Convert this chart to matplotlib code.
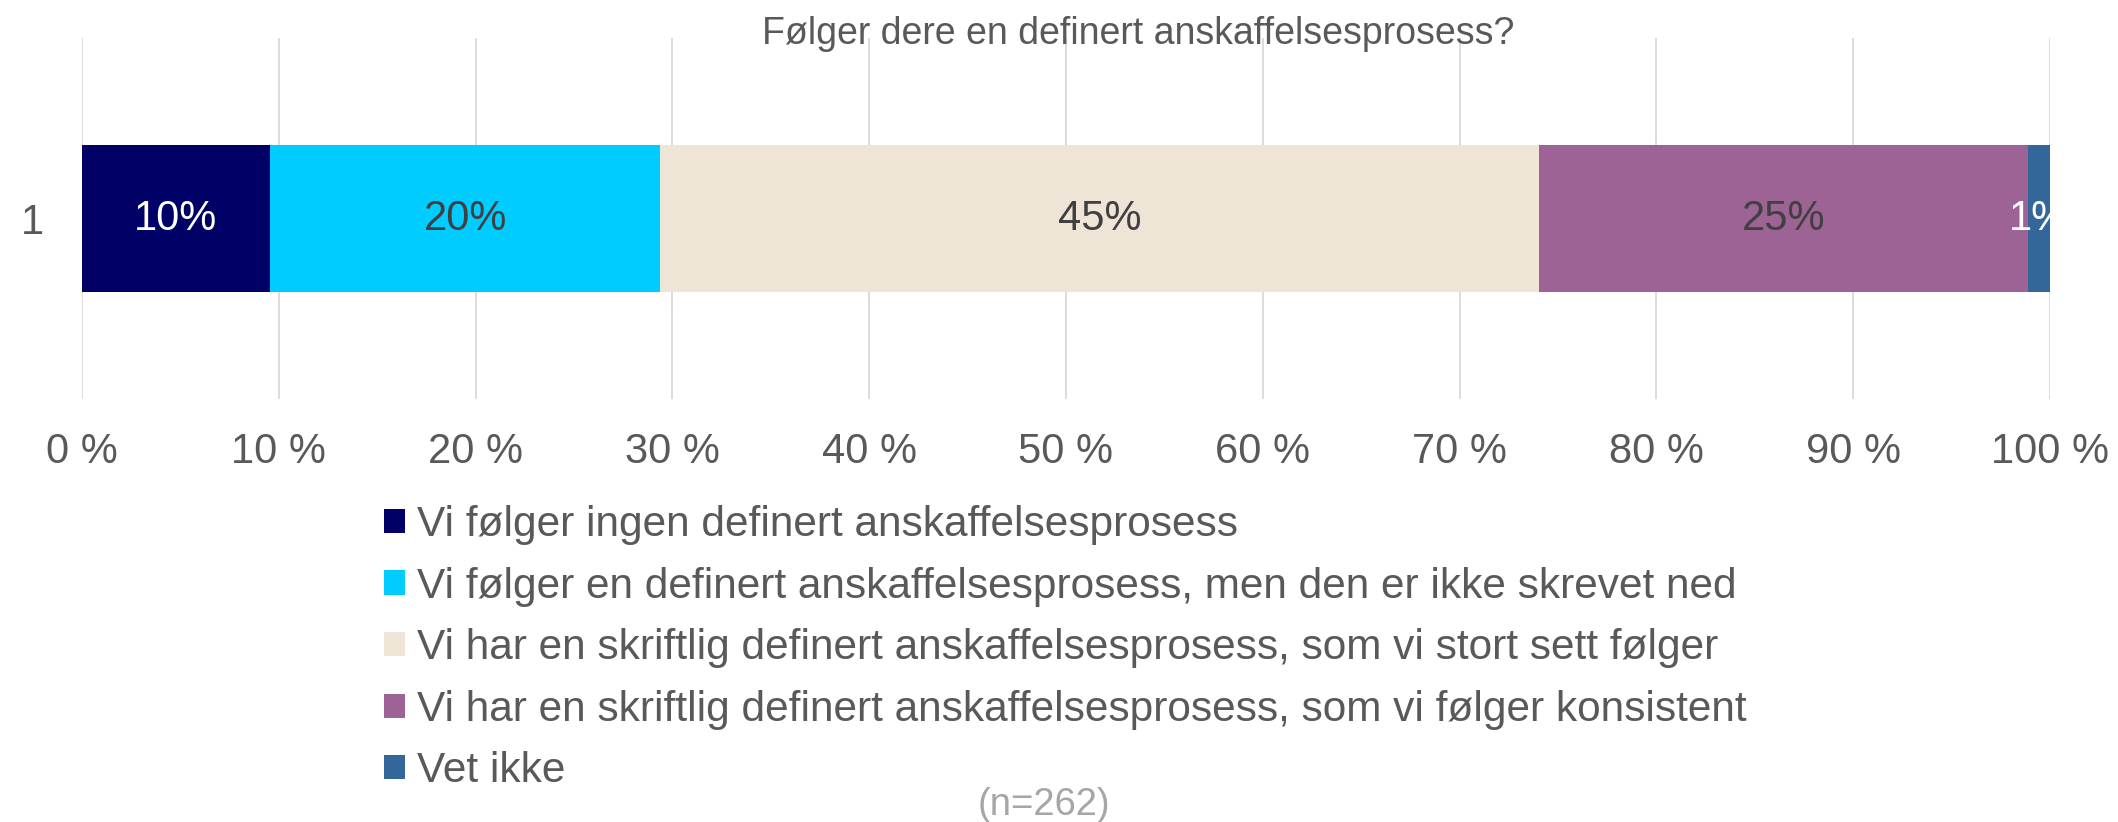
import matplotlib
matplotlib.use("Agg")
import matplotlib.pyplot as plt
from matplotlib.ticker import FixedLocator, FuncFormatter

plt.rcParams["font.family"] = ["Liberation Sans", "DejaVu Sans"]

# Survey data (n = 262), shares in percent
title = "Følger dere en definert anskaffelsesprosess?"
categories = ["1"]
series_labels = [
    "Vi følger ingen definert anskaffelsesprosess",
    "Vi følger en definert anskaffelsesprosess, men den er ikke skrevet ned",
    "Vi har en skriftlig definert anskaffelsesprosess, som vi stort sett følger",
    "Vi har en skriftlig definert anskaffelsesprosess, som vi følger konsistent",
    "Vet ikke",
]
series_values = [9.54, 19.85, 44.66, 24.81, 1.15]
x_ticks = [0, 10, 20, 30, 40, 50, 60, 70, 80, 90, 100]
note = "(n=262)"

colors = ["#000066", "#00CCFF", "#EFE5D7", "#9C6394", "#336699"]
label_colors = ["#FFFFFF", "#404040", "#404040", "#404040", "#FFFFFF"]

W, H = 2118, 822
fig = plt.figure(figsize=(W / 100, H / 100), dpi=100)
ax = fig.add_axes([82 / W, 1 - 399 / H, (2050 - 82) / W, (399 - 38) / H])

left = 0.0
handles = []
for val, lab, col, tcol in zip(series_values, series_labels, colors, label_colors):
    bars = ax.barh(categories, [val], left=[left], height=0.407, color=col,
                   label=lab, zorder=3)
    handles.append(bars[0])
    ax.text(left + val / 2, 0, f"{val:.0f}%", ha="center", va="center",
            fontsize=30, color=tcol, zorder=4, clip_on=True)
    left += val

ax.set_xlim(0, 100)
ax.set_ylim(-0.5, 0.5)
ax.xaxis.set_major_locator(FixedLocator(x_ticks))
ax.xaxis.set_major_formatter(FuncFormatter(lambda v, p: f"{v:.0f} %"))
ax.grid(axis="x", color="#D9D9D9", linewidth=1.3, zorder=0)
ax.grid(axis="y", visible=False)
ax.tick_params(axis="x", length=0, pad=24, labelsize=30, labelcolor="#595959")
ax.tick_params(axis="y", length=0, pad=27, labelsize=30, labelcolor="#595959")
for s in ax.spines.values():
    s.set_visible(False)

fig.text(1138 / W, 1 - 44 / H, title, ha="center", va="baseline",
         fontsize=27, color="#595959")

fig.legend(handles, series_labels, loc="upper left",
           bbox_to_anchor=(384 / W, 1 - 505 / H), frameon=False,
           fontsize=30.5, labelcolor="#595959", handlelength=0.5,
           handleheight=0.5, handletextpad=0.29, labelspacing=0.51,
           borderpad=0, borderaxespad=0)

fig.text(1044 / W, 1 - 805 / H, note, ha="center", va="center",
         fontsize=27.5, color="#A6A6A6")

fig.savefig("out.png", dpi=100)
